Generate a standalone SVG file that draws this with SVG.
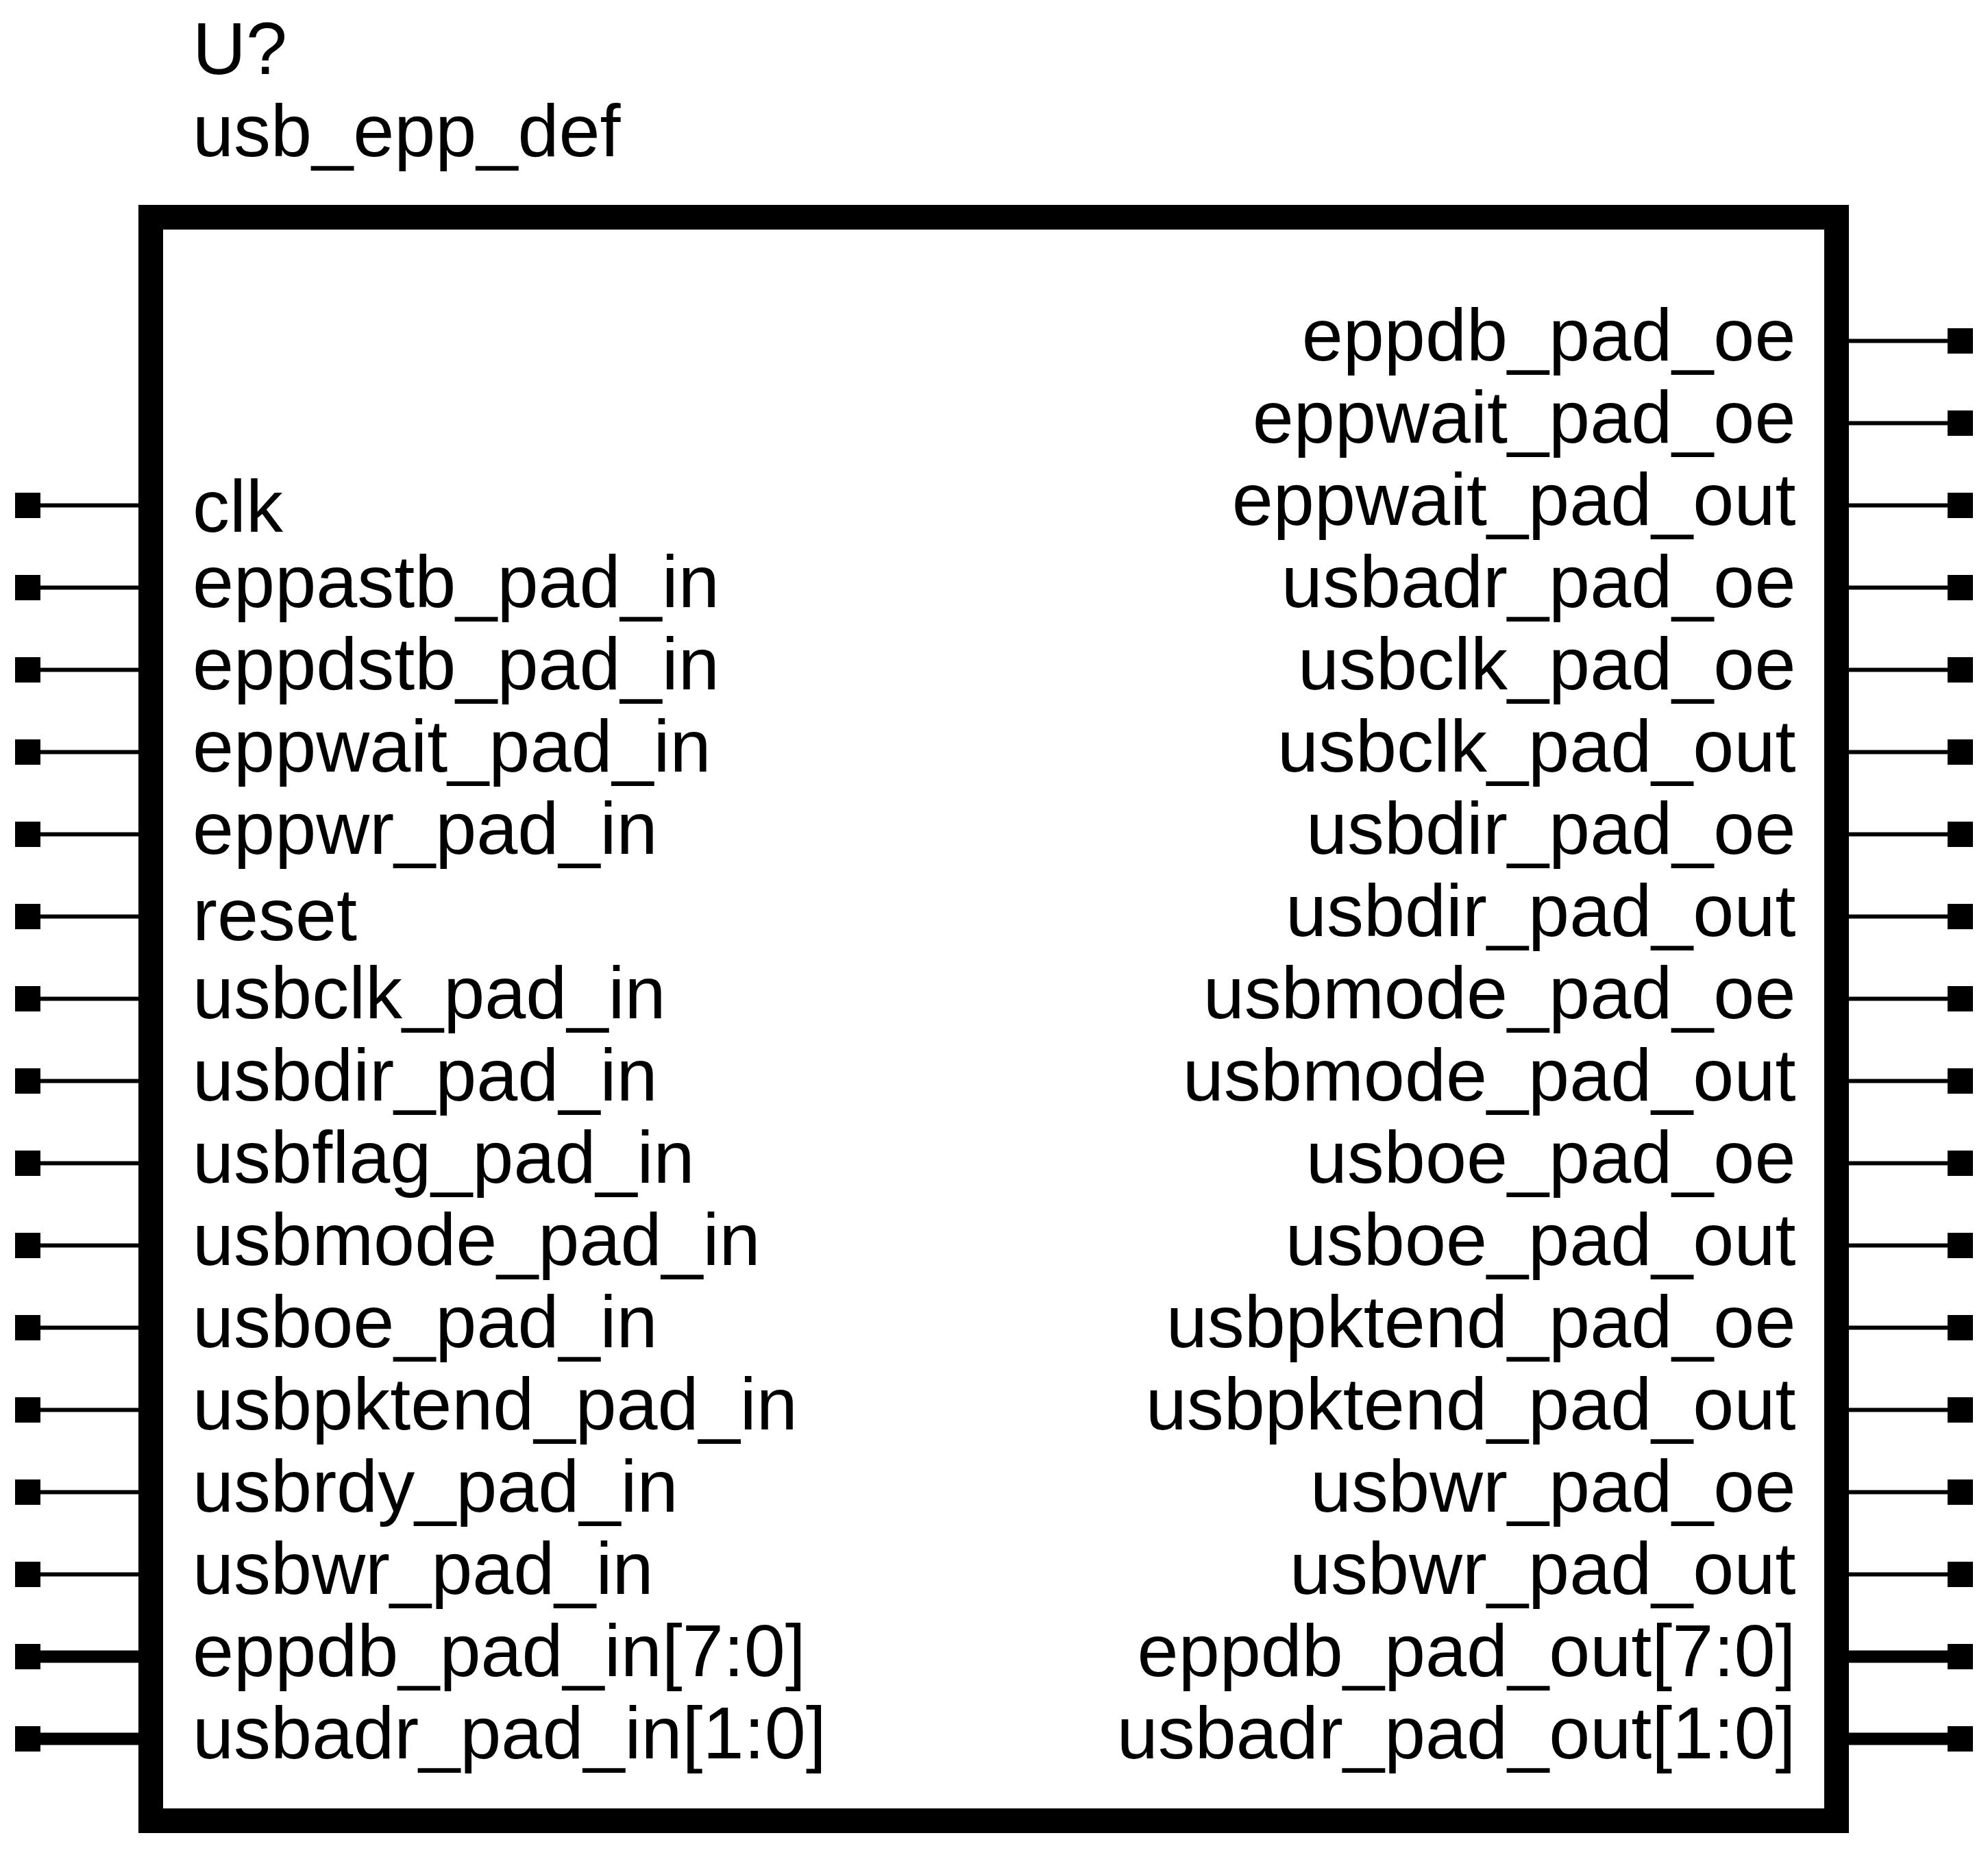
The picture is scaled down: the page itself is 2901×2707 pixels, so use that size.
<svg xmlns="http://www.w3.org/2000/svg" width="2901" height="2707" viewBox="0 0 2901 2707">
<style>
text{font-family:"Liberation Sans",Arial,sans-serif;font-size:108px;fill:#000}
.r{text-anchor:end}
.w{stroke:#000;stroke-width:6;fill:none}
.b{stroke:#000;stroke-width:18;fill:none}
.p{fill:#000}
</style>
<defs><rect id="pin" class="p" x="0" y="-18.5" width="37" height="37"/></defs>
<rect width="2901" height="2707" fill="#fff"/>
<g id="connectors">
<path class="w" d="M59 737.5H202M59 857.5H202M59 977.5H202M59 1097.5H202M59 1217.5H202M59 1337.5H202M59 1457.5H202M59 1577.5H202M59 1697.5H202M59 1817.5H202M59 1937.5H202M59 2057.5H202M59 2177.5H202M59 2297.5H202"/>
<path class="b" d="M59 2417.5H202M59 2537.5H202"/>
<path class="w" d="M2698 497.5H2842M2698 617.5H2842M2698 737.5H2842M2698 857.5H2842M2698 977.5H2842M2698 1097.5H2842M2698 1217.5H2842M2698 1337.5H2842M2698 1457.5H2842M2698 1577.5H2842M2698 1697.5H2842M2698 1817.5H2842M2698 1937.5H2842M2698 2057.5H2842M2698 2177.5H2842M2698 2297.5H2842"/>
<path class="b" d="M2698 2417.5H2842M2698 2537.5H2842"/>
</g>
<g id="block">
<rect x="220" y="317" width="2460" height="2340" fill="#fff" stroke="#000" stroke-width="36"/>
<text x="281" y="108">U?</text>
<text x="281" y="228">usb_epp_def</text>
</g>
<g id="inputs">
<g id="clk"><use href="#pin" x="22" y="737.5"/><text x="281" y="776">clk</text></g>
<g id="eppastb_pad_in"><use href="#pin" x="22" y="857.5"/><text x="281" y="886">eppastb_pad_in</text></g>
<g id="eppdstb_pad_in"><use href="#pin" x="22" y="977.5"/><text x="281" y="1006">eppdstb_pad_in</text></g>
<g id="eppwait_pad_in"><use href="#pin" x="22" y="1097.5"/><text x="281" y="1126">eppwait_pad_in</text></g>
<g id="eppwr_pad_in"><use href="#pin" x="22" y="1217.5"/><text x="281" y="1246">eppwr_pad_in</text></g>
<g id="reset"><use href="#pin" x="22" y="1337.5"/><text x="281" y="1372">reset</text></g>
<g id="usbclk_pad_in"><use href="#pin" x="22" y="1457.5"/><text x="281" y="1486">usbclk_pad_in</text></g>
<g id="usbdir_pad_in"><use href="#pin" x="22" y="1577.5"/><text x="281" y="1606">usbdir_pad_in</text></g>
<g id="usbflag_pad_in"><use href="#pin" x="22" y="1697.5"/><text x="281" y="1726">usbflag_pad_in</text></g>
<g id="usbmode_pad_in"><use href="#pin" x="22" y="1817.5"/><text x="281" y="1846">usbmode_pad_in</text></g>
<g id="usboe_pad_in"><use href="#pin" x="22" y="1937.5"/><text x="281" y="1966">usboe_pad_in</text></g>
<g id="usbpktend_pad_in"><use href="#pin" x="22" y="2057.5"/><text x="281" y="2086">usbpktend_pad_in</text></g>
<g id="usbrdy_pad_in"><use href="#pin" x="22" y="2177.5"/><text x="281" y="2206">usbrdy_pad_in</text></g>
<g id="usbwr_pad_in"><use href="#pin" x="22" y="2297.5"/><text x="281" y="2326">usbwr_pad_in</text></g>
<g id="eppdb_pad_in"><use href="#pin" x="22" y="2417.5"/><text x="281" y="2446">eppdb_pad_in[7:0]</text></g>
<g id="usbadr_pad_in"><use href="#pin" x="22" y="2537.5"/><text x="281" y="2566">usbadr_pad_in[1:0]</text></g>
</g>
<g id="outputs">
<g id="eppdb_pad_oe"><use href="#pin" x="2842" y="497.5"/><text class="r" x="2620.5" y="526">eppdb_pad_oe</text></g>
<g id="eppwait_pad_oe"><use href="#pin" x="2842" y="617.5"/><text class="r" x="2620.5" y="646">eppwait_pad_oe</text></g>
<g id="eppwait_pad_out"><use href="#pin" x="2842" y="737.5"/><text class="r" x="2620.5" y="766">eppwait_pad_out</text></g>
<g id="usbadr_pad_oe"><use href="#pin" x="2842" y="857.5"/><text class="r" x="2620.5" y="886">usbadr_pad_oe</text></g>
<g id="usbclk_pad_oe"><use href="#pin" x="2842" y="977.5"/><text class="r" x="2620.5" y="1006">usbclk_pad_oe</text></g>
<g id="usbclk_pad_out"><use href="#pin" x="2842" y="1097.5"/><text class="r" x="2620.5" y="1126">usbclk_pad_out</text></g>
<g id="usbdir_pad_oe"><use href="#pin" x="2842" y="1217.5"/><text class="r" x="2620.5" y="1246">usbdir_pad_oe</text></g>
<g id="usbdir_pad_out"><use href="#pin" x="2842" y="1337.5"/><text class="r" x="2620.5" y="1366">usbdir_pad_out</text></g>
<g id="usbmode_pad_oe"><use href="#pin" x="2842" y="1457.5"/><text class="r" x="2620.5" y="1486">usbmode_pad_oe</text></g>
<g id="usbmode_pad_out"><use href="#pin" x="2842" y="1577.5"/><text class="r" x="2620.5" y="1606">usbmode_pad_out</text></g>
<g id="usboe_pad_oe"><use href="#pin" x="2842" y="1697.5"/><text class="r" x="2620.5" y="1726">usboe_pad_oe</text></g>
<g id="usboe_pad_out"><use href="#pin" x="2842" y="1817.5"/><text class="r" x="2620.5" y="1846">usboe_pad_out</text></g>
<g id="usbpktend_pad_oe"><use href="#pin" x="2842" y="1937.5"/><text class="r" x="2620.5" y="1966">usbpktend_pad_oe</text></g>
<g id="usbpktend_pad_out"><use href="#pin" x="2842" y="2057.5"/><text class="r" x="2620.5" y="2086">usbpktend_pad_out</text></g>
<g id="usbwr_pad_oe"><use href="#pin" x="2842" y="2177.5"/><text class="r" x="2620.5" y="2206">usbwr_pad_oe</text></g>
<g id="usbwr_pad_out"><use href="#pin" x="2842" y="2297.5"/><text class="r" x="2620.5" y="2326">usbwr_pad_out</text></g>
<g id="eppdb_pad_out"><use href="#pin" x="2842" y="2417.5"/><text class="r" x="2620.5" y="2446">eppdb_pad_out[7:0]</text></g>
<g id="usbadr_pad_out"><use href="#pin" x="2842" y="2537.5"/><text class="r" x="2620.5" y="2566">usbadr_pad_out[1:0]</text></g>
</g>
</svg>
